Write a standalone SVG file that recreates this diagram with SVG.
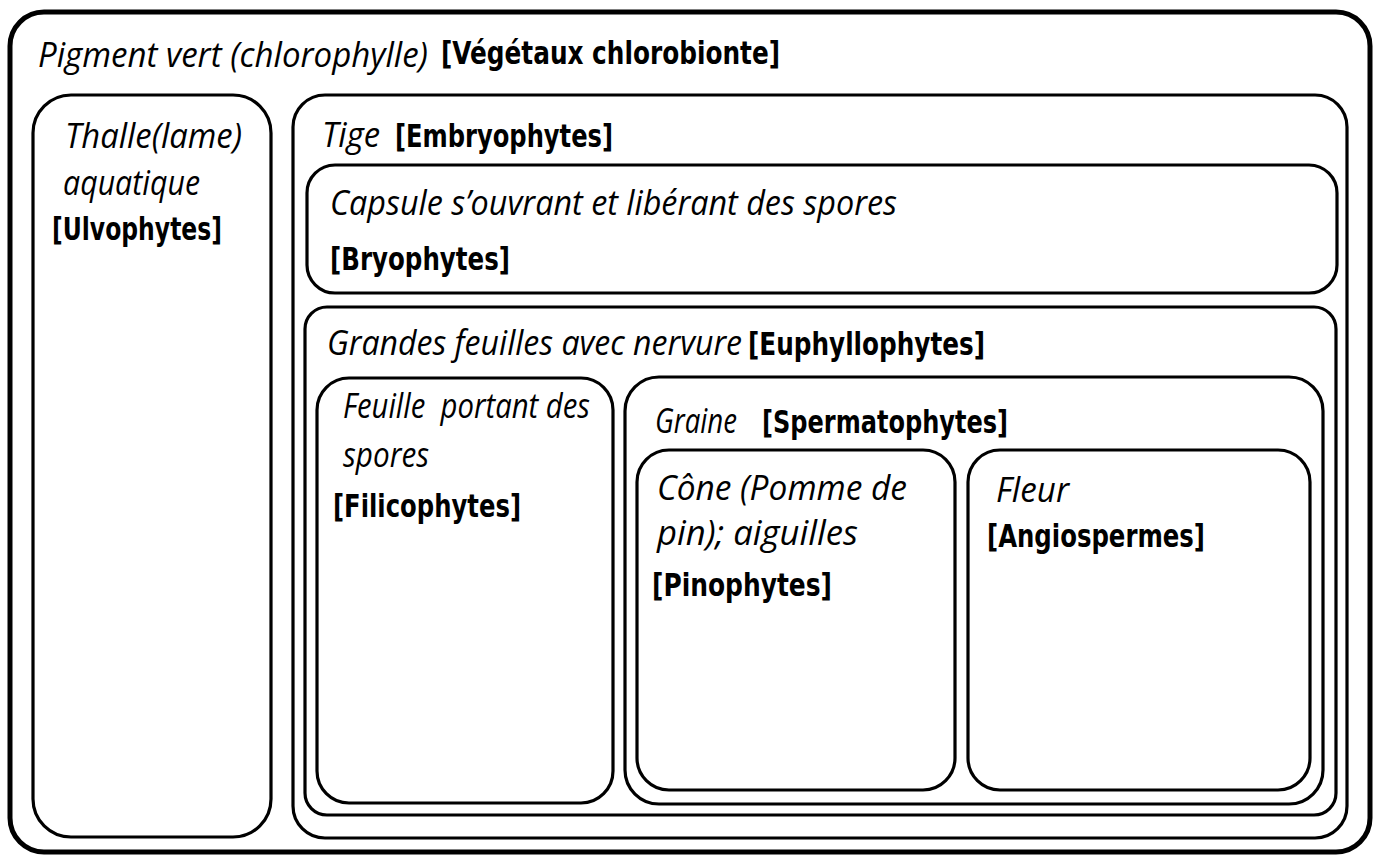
<svg xmlns="http://www.w3.org/2000/svg" width="1378" height="855" viewBox="0 0 1378 855">
<style>
.box{fill:none;stroke:#000;stroke-width:3.2}
.outer{fill:none;stroke:#000;stroke-width:5}
.it{font-family:"Open Sans","Noto Sans","DejaVu Sans",sans-serif;font-style:italic;font-size:34px;fill:#000}
.bd{font-family:"DejaVu Sans Condensed","DejaVu Sans","Liberation Sans",sans-serif;font-weight:bold;font-size:32px;fill:#000}
</style>
<rect width="1378" height="855" fill="#fff"/>
<g id="vegetaux">
<rect class="outer" x="10" y="12" width="1360" height="840" rx="34"/>
<text class="it" x="38" y="67" textLength="390" lengthAdjust="spacingAndGlyphs">Pigment vert (chlorophylle)</text>
<text class="bd" x="441" y="64" textLength="339" lengthAdjust="spacingAndGlyphs">[Végétaux chlorobionte]</text>
</g>
<g id="ulvophytes">
<rect class="box" x="33" y="95" width="238" height="742" rx="38"/>
<text class="it" x="65" y="148" textLength="177" lengthAdjust="spacingAndGlyphs">Thalle(lame)</text>
<text class="it" x="63" y="195" textLength="137" lengthAdjust="spacingAndGlyphs">aquatique</text>
<text class="bd" x="52" y="240" textLength="170" lengthAdjust="spacingAndGlyphs">[Ulvophytes]</text>
</g>
<g id="embryophytes">
<rect class="box" x="293" y="95" width="1054" height="743" rx="32"/>
<text class="it" x="322" y="147" textLength="58" lengthAdjust="spacingAndGlyphs">Tige</text>
<text class="bd" x="395" y="147" textLength="218" lengthAdjust="spacingAndGlyphs">[Embryophytes]</text>
</g>
<g id="bryophytes">
<rect class="box" x="307" y="165" width="1030" height="128" rx="28"/>
<text class="it" x="330" y="215" textLength="567" lengthAdjust="spacingAndGlyphs">Capsule s’ouvrant et libérant des spores</text>
<text class="bd" x="330" y="270" textLength="180" lengthAdjust="spacingAndGlyphs">[Bryophytes]</text>
</g>
<g id="euphyllophytes">
<rect class="box" x="305" y="307" width="1031" height="508" rx="22"/>
<text class="it" x="327" y="355" textLength="415" lengthAdjust="spacingAndGlyphs">Grandes feuilles avec nervure</text>
<text class="bd" x="748" y="355" textLength="237" lengthAdjust="spacingAndGlyphs">[Euphyllophytes]</text>
</g>
<g id="filicophytes">
<rect class="box" x="317" y="378" width="296" height="425" rx="32"/>
<text class="it" x="343" y="418" textLength="247" lengthAdjust="spacingAndGlyphs" xml:space="preserve">Feuille  portant des</text>
<text class="it" x="343" y="467" textLength="86" lengthAdjust="spacingAndGlyphs">spores</text>
<text class="bd" x="333" y="517" textLength="188" lengthAdjust="spacingAndGlyphs">[Filicophytes]</text>
</g>
<g id="spermatophytes">
<rect class="box" x="625" y="377" width="698" height="427" rx="34"/>
<text class="it" x="655" y="433" textLength="82" lengthAdjust="spacingAndGlyphs">Graine</text>
<text class="bd" x="762" y="433" textLength="246" lengthAdjust="spacingAndGlyphs">[Spermatophytes]</text>
</g>
<g id="pinophytes">
<rect class="box" x="637" y="450" width="318" height="340" rx="32"/>
<text class="it" x="657" y="500" textLength="250" lengthAdjust="spacingAndGlyphs">Cône (Pomme de</text>
<text class="it" x="657" y="545" textLength="201" lengthAdjust="spacingAndGlyphs">pin); aiguilles</text>
<text class="bd" x="652" y="596" textLength="180" lengthAdjust="spacingAndGlyphs">[Pinophytes]</text>
</g>
<g id="angiospermes">
<rect class="box" x="968" y="450" width="342" height="340" rx="32"/>
<text class="it" x="996" y="502" textLength="73" lengthAdjust="spacingAndGlyphs">Fleur</text>
<text class="bd" x="987" y="547" textLength="218" lengthAdjust="spacingAndGlyphs">[Angiospermes]</text>
</g>
<g id="connectors"></g>
</svg>
